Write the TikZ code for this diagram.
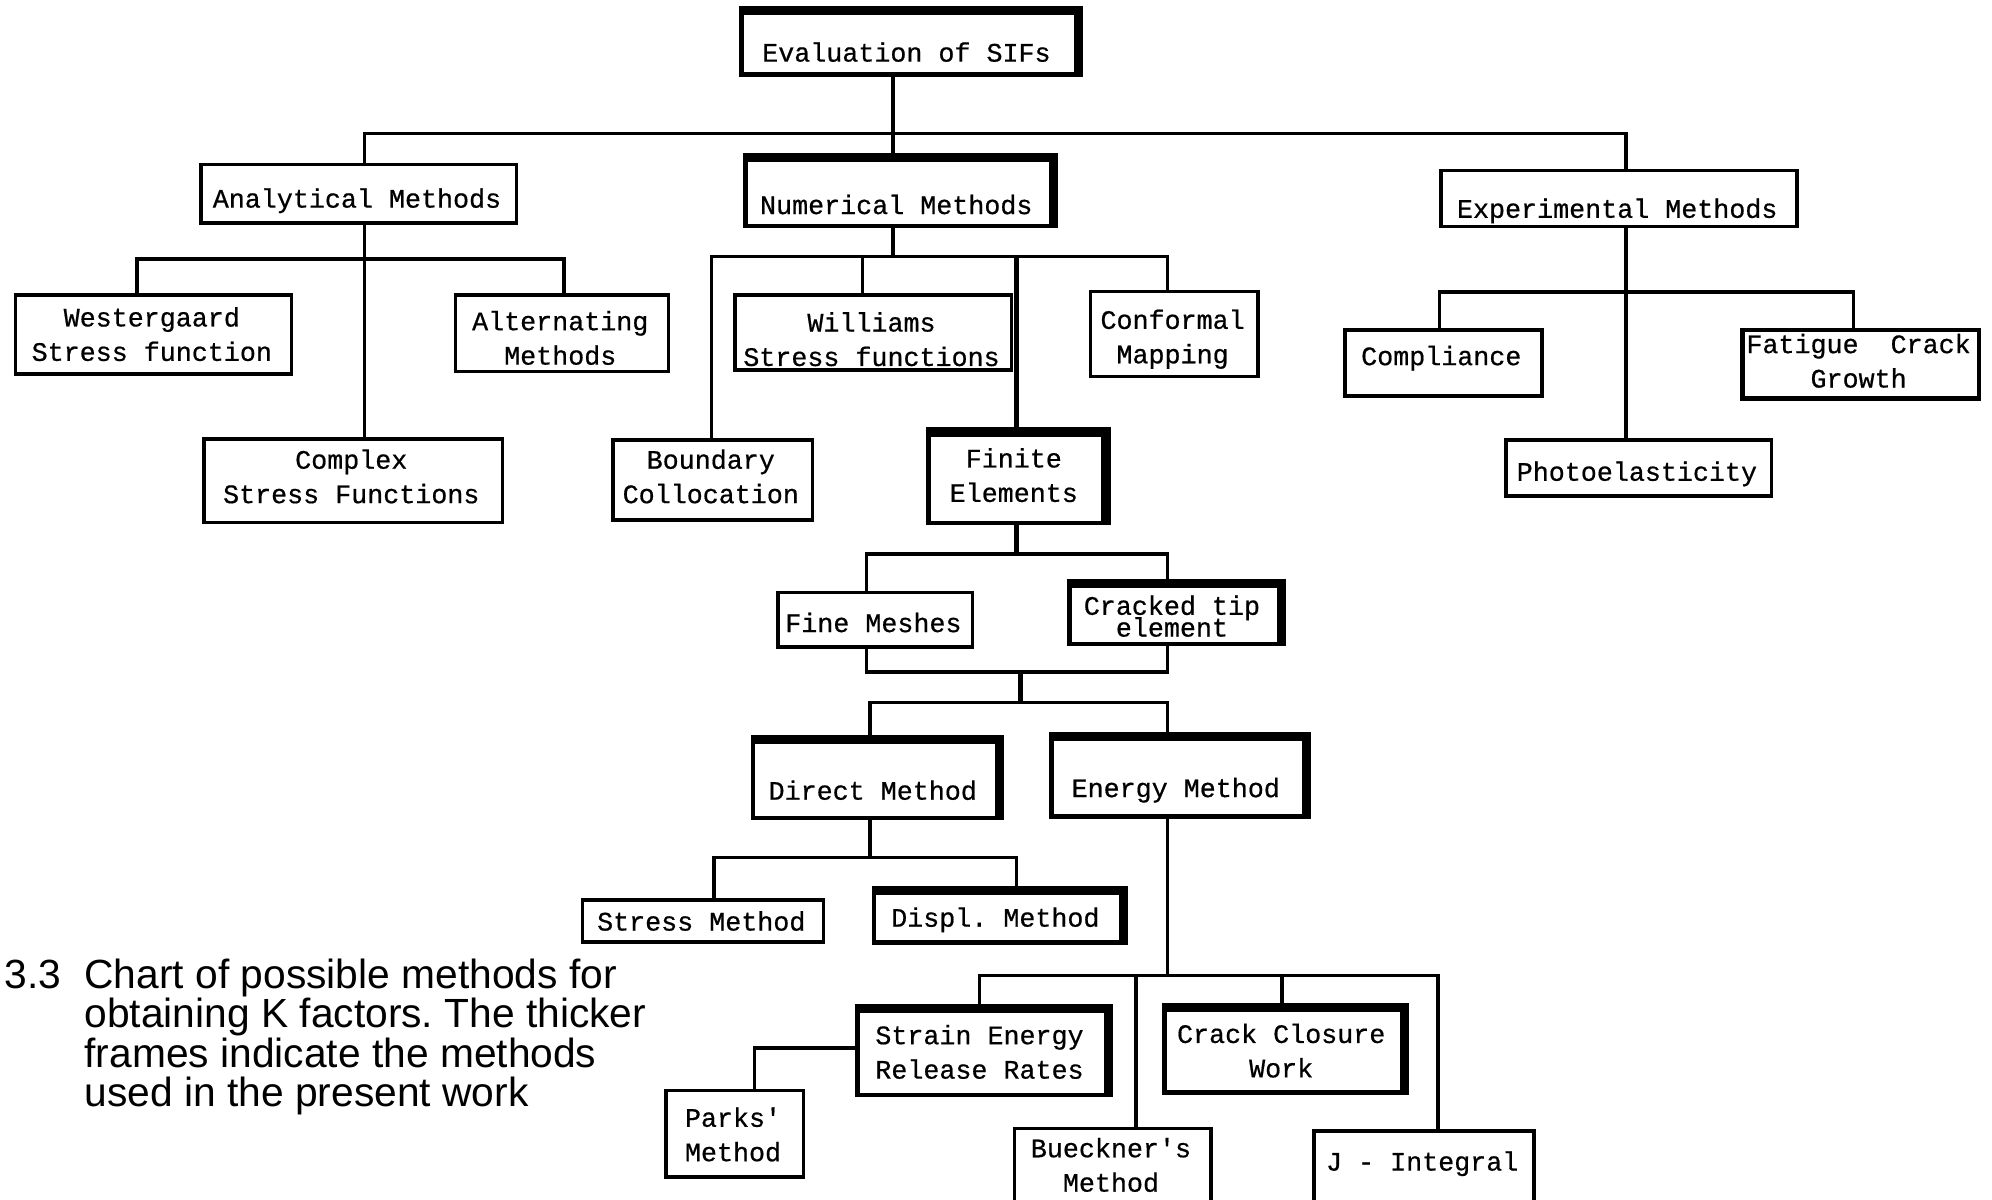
\documentclass[tikz,border=0pt]{standalone}
\usepackage{fontspec}
\newfontfamily\boxfont[FakeBold=0.6]{Liberation Mono}
\newfontfamily\capfont{Liberation Sans}
\frenchspacing
% box with its label: [style]{name}{x1}{y1}{x2}{y2}{label y}{label}
\newcommand\chartbox[8][plainbox]{%
  \node[#1, minimum width={(#5-#3)*0.012704cm}, minimum height={(#6-#4)*0.012704cm},
        anchor=north west] (#2) at (#3,#4) {};
  \node[boxtext] (#2-t) at ({(#3+#5)/2},#7) {#8};
}
\begin{document}
\begin{tikzpicture}[x=0.012704cm, y=-0.012704cm,
  plainbox/.style={draw, line width=1pt, inner sep=0pt},
  midbox/.style={draw, line width=1.25pt, inner sep=0pt},
  heavybox/.style={draw, line width=1.3pt, inner sep=0pt},
  heavyedge/.style={line width=2.6pt, line join=miter},
  boxtext/.style={inner sep=0pt, align=center,
    font=\boxfont\fontsize{7.6}{9.8}\selectfont},
  captext/.style={inner sep=0pt, font=\capfont\fontsize{11.6}{12}\selectfont},
  conn/.style={line width=1pt, line join=miter}]
\useasboundingbox (0,0) rectangle (1568,944);
\clip (0,0) rectangle (1568,944);

% boxes
\chartbox[heavybox]{eval}{582}{8}{845}{57}{41}{Evaluation of SIFs}
\chartbox{ana}{157}{128}{405}{174}{158}{Analytical Methods}
\chartbox[heavybox]{num}{585}{124}{826}{176}{161}{Numerical Methods}
\chartbox{exp}{1133}{133}{1413}{177}{166}{Experimental Methods}
\chartbox{west}{11}{231}{228}{293}{263}{Westergaard\\Stress function}
\chartbox{alt}{357}{231}{525}{291}{266}{Alternating\\Methods}
\chartbox{cplx}{159}{344}{394}{410}{375}{Complex\\Stress Functions}
\chartbox{bound}{481}{345}{638}{408}{375}{Boundary\\Collocation}
\chartbox{will}{577}{231}{795}{290}{267}{Williams\hspace{1.2em}\\Stress functions}
\chartbox[heavybox]{fe}{729}{340}{867}{410}{374}{Finite\\Elements}
\chartbox{conf}{857}{228}{989}{295}{267}{Conformal\\Mapping}
\chartbox[midbox]{comp}{1057}{258}{1212}{310}{282}{Compliance}
\chartbox[midbox]{fat}{1370}{258}{1556}{312}{284}{Fatigue\ \ Crack\\Growth}
\chartbox{photo}{1184}{345}{1393}{389}{373}{Photoelasticity}
\chartbox{fine}{611}{465}{764}{508}{490}{Fine Meshes}
\chartbox[heavybox]{crack}{840}{459}{1005}{505}{485}{Cracked tip\\[-3.6pt]element}
\chartbox[heavybox]{direct}{591}{582}{783}{642}{622}{Direct Method}
\chartbox[heavybox]{energy}{826}{580}{1025}{641}{622}{Energy Method}
\chartbox{stress}{457}{707}{647}{740}{725}{Stress Method}
\chartbox[heavybox]{displ}{686}{701}{881}{740}{724}{Displ. Method}
\chartbox[heavybox]{seer}{673}{794}{869}{860}{828}{Strain Energy\\Release Rates}
\chartbox[heavybox]{ccw}{915}{793}{1102}{858}{827}{Crack Closure\\Work}
\chartbox{parks}{523}{857}{631}{925}{893}{Parks'\\Method}
\chartbox{bueck}{797}{887}{952}{960}{917}{Bueckner's\\Method}
\chartbox{jint}{1033}{889}{1206}{960}{916}{J - Integral}

% heavy top and right edges of the frames used in the work
\foreach \n in {eval,num,fe,crack,direct,energy,displ,seer,ccw}
  \draw[heavyedge] (\n.north west) -- (\n.north east) -- (\n.south east);

% top level
\coordinate (t0) at (703,105);
\coordinate (tL) at (287,105);
\coordinate (tR) at (1280,105);
\draw[conn] (t0 |- eval.south) -- (t0 |- num.north);
\draw[conn] (tL |- ana.north) -- (tL) -- (tR) -- (tR |- exp.north);

% analytical methods
\coordinate (aM) at (287,204);
\coordinate (aL) at (108,204);
\coordinate (aR) at (444,204);
\draw[conn] (aM |- ana.south) -- (aM |- cplx.north);
\draw[conn] (aL |- west.north) -- (aL) -- (aR) -- (aR |- alt.north);

% numerical methods
\coordinate (nM) at (703,202);
\coordinate (nL) at (560,202);
\coordinate (nW) at (679,202);
\coordinate (nF) at (800,202);
\coordinate (nR) at (919,202);
\draw[conn] (nM |- num.south) -- (nM);
\draw[conn] (nL |- bound.north) -- (nL) -- (nR) -- (nR |- conf.north);
\draw[conn] (nW) -- (nW |- will.north);
\draw[conn, line width=1.4pt] (nF) -- (nF |- fe.north);

% experimental methods
\coordinate (eM) at (1280,230);
\coordinate (eL) at (1133,230);
\coordinate (eR) at (1459,230);
\draw[conn] (eM |- exp.south) -- (eM |- photo.north);
\draw[conn] (eL |- comp.north) -- (eL) -- (eR) -- (eR |- fat.north);

% finite elements
\coordinate (fM) at (800,436);
\coordinate (fL) at (682,436);
\coordinate (fR) at (919,436);
\draw[conn, line width=1.4pt] (fM |- fe.south) -- (fM);
\draw[conn] (fL |- fine.north) -- (fL) -- (fR) -- (fR |- crack.north);
\coordinate (gL) at (682,529);
\coordinate (gR) at (919,529);
\coordinate (gM) at (803,529);
\draw[conn] (gL |- fine.south) -- (gL) -- (gR) -- (gR |- crack.south);
\coordinate (hM) at (803,553);
\coordinate (hL) at (685,553);
\coordinate (hR) at (919,553);
\draw[conn, line width=1.4pt] (gM) -- (hM);
\draw[conn] (hL |- direct.north) -- (hL) -- (hR) -- (hR |- energy.north);

% direct method
\coordinate (dM) at (685,675);
\coordinate (dL) at (562,675);
\coordinate (dR) at (800,675);
\draw[conn] (dM |- direct.south) -- (dM);
\draw[conn] (dL |- stress.north) -- (dL) -- (dR) -- (dR |- displ.north);

% energy method
\coordinate (kM) at (919,768);
\coordinate (kL) at (771,768);
\coordinate (kB) at (894,768);
\coordinate (kC) at (1009,768);
\coordinate (kR) at (1132,768);
\draw[conn] (kM |- energy.south) -- (kM);
\draw[conn] (kL |- seer.north) -- (kL) -- (kR) -- (kR |- jint.north);
\draw[conn] (kB) -- (kB |- bueck.north);
\draw[conn] (kC) -- (kC |- ccw.north);

% Parks' method
\coordinate (pk) at (594,825);
\draw[conn] (seer.west |- pk) -- (pk) -- (pk |- parks.north);

% caption
\node[captext, anchor=base west] (capnum) at (3,778) {3.3};
\node[captext, anchor=base west] (cap1) at (66,778) {Chart of possible methods for};
\node[captext, anchor=base west] (cap2) at (66,809) {obtaining K factors. The thicker};
\node[captext, anchor=base west] (cap3) at (66,840) {frames indicate the methods};
\node[captext, anchor=base west] (cap4) at (66,871) {used in the present work};
\end{tikzpicture}
\end{document}
